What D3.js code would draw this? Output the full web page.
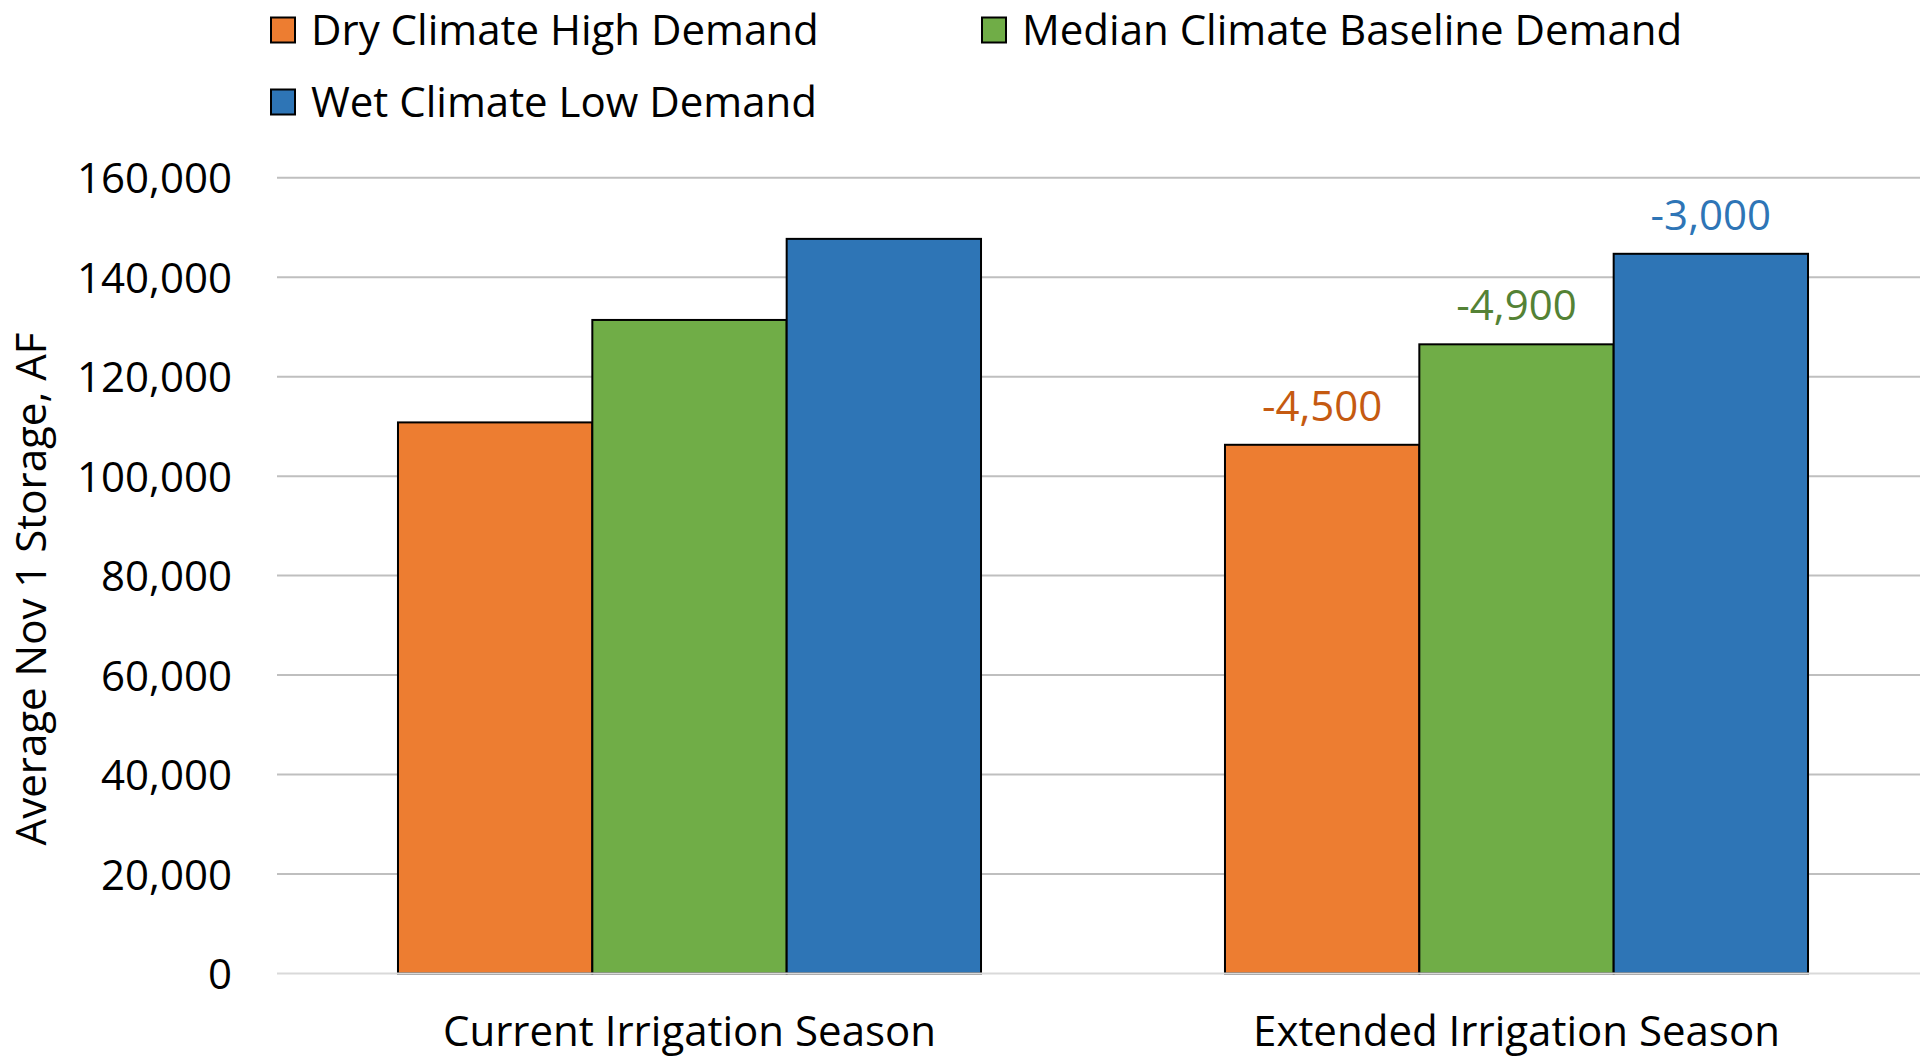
<!DOCTYPE html>
<html>
<head>
<meta charset="utf-8">
<script src="https://cdn.jsdelivr.net/npm/d3@7"></script>
<style>
  html, body { margin: 0; padding: 0; background: #ffffff; }
  svg { display: block; }
  text { font-family: "Open Sans", "Noto Sans", sans-serif; }
</style>
</head>
<body>
<svg id="chart" width="1920" height="1060"></svg>
<script>
// Irrigation season scenarios on the category axis
const categories = ["Current Irrigation Season", "Extended Irrigation Season"];

// Climate / demand scenarios (one bar each per category)
const series = ["Dry Climate High Demand", "Median Climate Baseline Demand", "Wet Climate Low Demand"];

// Average Nov 1 storage (acre-feet) for each scenario
const currentSeason = [110800, 131400, 147700];
const extendedSeason = [106300, 126500, 144700];

// Y axis ticks
const yTicks = [0, 20000, 40000, 60000, 80000, 100000, 120000, 140000, 160000];

const barColors = ["#ED7D31", "#70AD47", "#2E75B6"];
const labelColors = ["#C55A11", "#548235", "#2E75B6"];

const fmt = d3.formatLocale({
  decimal: ".", thousands: ",", grouping: [3], currency: ["$", ""], minus: "-"
}).format(",");

const svg = d3.select("#chart");
const W = 1920, H = 1060;

const x0 = d3.scaleBand()
  .domain(categories)
  .range([276, 1930])
  .paddingInner(0.295)
  .paddingOuter(0.1475);

const x1 = d3.scaleBand()
  .domain(series)
  .range([0, x0.bandwidth()])
  .padding(0);

const y = d3.scaleLinear()
  .domain([0, 160000])
  .range([973.5, 177.7]);

const FONT = 42;

// Tick labels on the value axis
const yAxis = d3.axisLeft(y)
  .tickValues(yTicks)
  .tickSize(0)
  .tickPadding(0)
  .tickFormat(d => fmt(d));

const gy = svg.append("g").attr("transform", "translate(232,0)").call(yAxis);
gy.select(".domain").remove();
gy.selectAll(".tick text")
  .attr("x", 0)
  .attr("dy", "0.36em")
  .attr("fill", "#000")
  .style("font-size", FONT + "px")
  .style("font-family", '"Open Sans", sans-serif');

// Horizontal gridlines
svg.append("g")
  .selectAll("line")
  .data(yTicks.filter(d => d > 0))
  .join("line")
  .attr("x1", 277)
  .attr("x2", W)
  .attr("y1", d => y(d))
  .attr("y2", d => y(d))
  .attr("stroke", "#BFBFBF")
  .attr("stroke-width", 2);

// Bars
const rows = categories.map((c, i) => ({
  category: c,
  values: series.map((s, j) => ({
    series: s,
    idx: j,
    value: i === 0 ? currentSeason[j] : extendedSeason[j],
    change: i === 0 ? null : extendedSeason[j] - currentSeason[j]
  }))
}));

const groups = svg.append("g")
  .selectAll("g")
  .data(rows)
  .join("g")
  .attr("transform", d => `translate(${x0(d.category)},0)`);

groups.selectAll("rect")
  .data(d => d.values)
  .join("rect")
  .attr("x", d => x1(d.series))
  .attr("y", d => y(d.value))
  .attr("width", x1.bandwidth())
  .attr("height", d => y(0) - y(d.value))
  .attr("fill", d => barColors[d.idx])
  .attr("stroke", "#000")
  .attr("stroke-width", 2);

// Change labels above the extended-season bars
groups.selectAll("text.change")
  .data(d => d.values.filter(v => v.change !== null))
  .join("text")
  .attr("class", "change")
  .attr("x", d => x1(d.series) + x1.bandwidth() / 2)
  .attr("y", d => y(d.value) - 24)
  .attr("text-anchor", "middle")
  .attr("fill", d => labelColors[d.idx])
  .style("font-size", FONT + "px")
  .text(d => fmt(d.change));

// Category axis line
svg.append("line")
  .attr("x1", 277)
  .attr("x2", W)
  .attr("y1", y(0))
  .attr("y2", y(0))
  .attr("stroke", "#D9D9D9")
  .attr("stroke-width", 2);

// Category labels
svg.append("g")
  .selectAll("text")
  .data(categories)
  .join("text")
  .attr("x", d => x0(d) + x0.bandwidth() / 2)
  .attr("y", 1046)
  .attr("text-anchor", "middle")
  .attr("fill", "#000")
  .style("font-size", FONT + "px")
  .text(d => d);

// Y axis title
svg.append("text")
  .attr("transform", "translate(46,589) rotate(-90)")
  .attr("text-anchor", "middle")
  .attr("fill", "#000")
  .style("font-size", FONT + "px")
  .text("Average Nov 1 Storage, AF");

// Legend
const legendPos = [
  { x: 271, y: 30 },
  { x: 982, y: 30 },
  { x: 271, y: 102 }
];

const legend = svg.append("g")
  .selectAll("g")
  .data(series)
  .join("g")
  .attr("transform", (d, i) => `translate(${legendPos[i].x},${legendPos[i].y})`);

legend.append("rect")
  .attr("x", 0)
  .attr("y", -12.5)
  .attr("width", 24)
  .attr("height", 25)
  .attr("fill", (d, i) => barColors[i])
  .attr("stroke", "#000")
  .attr("stroke-width", 2);

legend.append("text")
  .attr("x", 40)
  .attr("y", 0)
  .attr("dy", "0.36em")
  .attr("fill", "#000")
  .style("font-size", FONT + "px")
  .text(d => d);
</script>
</body>
</html>
